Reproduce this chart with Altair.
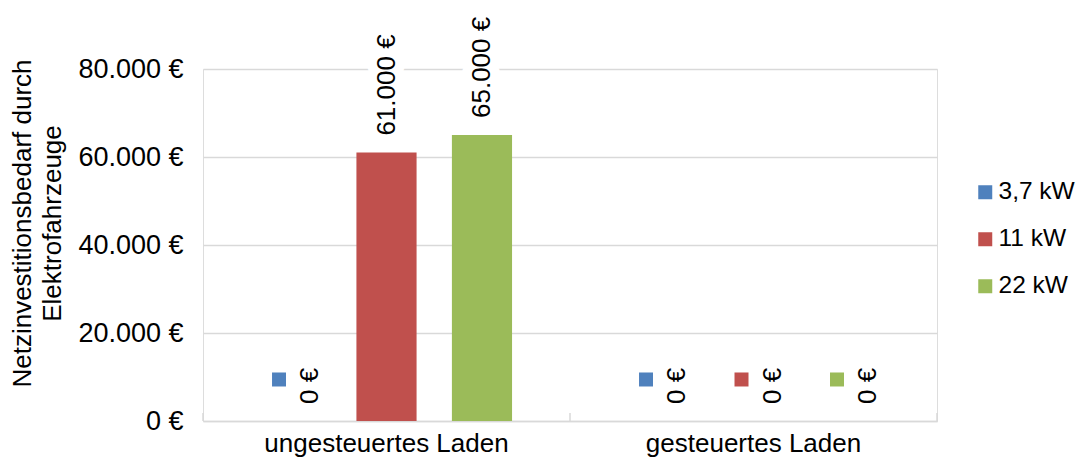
import altair as alt
import pandas as pd

categories = ["ungesteuertes Laden", "gesteuertes Laden"]
series = ["3,7 kW", "11 kW", "22 kW"]
values_ungesteuert = [0, 61000, 65000]
values_gesteuert = [0, 0, 0]
colors = ["#4F81BD", "#C0504D", "#9BBB59"]
y_ticks = [0, 20000, 40000, 60000, 80000]

rows = []
for cat, vals in zip(categories, [values_ungesteuert, values_gesteuert]):
    for s, v in zip(series, vals):
        rows.append({"cat": cat, "series": s, "value": v,
                     "label": f"{v:,.0f}".replace(",", ".") + " €"})
df = pd.DataFrame(rows)

FONT = "Liberation Sans"
FS = 26
W, H = 734, 352

# square marker shifted left/up of the bar anchor (units of half side = 7px)
SQ_PATH = "M-2.714,-6.93 L-0.714,-6.93 L-0.714,-4.93 L-2.714,-4.93 Z"

xenc = alt.X("cat:N", sort=categories,
             scale=alt.Scale(paddingInner=0, paddingOuter=0),
             axis=alt.Axis(title=None, labelAngle=0, ticks=False, grid=False,
                           domain=True, domainColor="#d9d9d9", domainWidth=1.5,
                           labelFontSize=FS, labelFont=FONT, labelColor="#000000",
                           labelPadding=9, labelLimit=0))
xoff = alt.XOffset("series:N", sort=series,
                   scale=alt.Scale(paddingInner=0.37, paddingOuter=0.607))
yenc = alt.Y("value:Q", scale=alt.Scale(domain=[0, 80000], nice=False),
             axis=alt.Axis(title=["Netzinvestitionsbedarf durch", "Elektrofahrzeuge"],
                           values=y_ticks, domain=False, ticks=False,
                           grid=True, gridColor="#d9d9d9", gridWidth=1.5,
                           labelFontSize=27, labelFont=FONT, labelColor="#000000",
                           labelPadding=20,
                           labelExpr="replace(format(datum.value, ',.0f'), ',', '.') + ' €'",
                           titleFontSize=FS, titleFont=FONT, titleFontWeight="normal",
                           titleColor="#000000", titleAngle=270, titleAlign="center",
                           titleBaseline="top", titleX=-194, titleY=154,
                           titleLineHeight=30))
color = alt.Color("series:N", sort=series,
                  scale=alt.Scale(domain=series, range=colors),
                  legend=alt.Legend(title=None, orient="none", legendX=770, legendY=111,
                                    symbolType="square", symbolSize=196,
                                    symbolStrokeWidth=0, labelFontSize=24.5,
                                    labelFont=FONT, labelColor="#000000",
                                    labelOffset=1, rowPadding=22, labelLimit=0))

base = alt.Chart(df)

bars = base.mark_bar().encode(x=xenc, xOffset=xoff, y=yenc, color=color)

nonzero = base.transform_filter("datum.value > 0")
zero = base.transform_filter("datum.value == 0")

pos = dict(x=alt.X("cat:N", sort=categories),
           xOffset=alt.XOffset("series:N", sort=series),
           y="value:Q", text="label:N")

halo = nonzero.mark_text(angle=270, align="left", baseline="middle", yOffset=-17,
                         font=FONT, fontSize=FS, stroke="white", strokeWidth=20,
                         fill="white").encode(**pos)
labels_nz = nonzero.mark_text(angle=270, align="left", baseline="middle", yOffset=-17,
                              font=FONT, fontSize=FS, color="#000000").encode(**pos)
labels_z = zero.mark_text(angle=270, align="left", baseline="middle", yOffset=-17,
                          dy=19, font=FONT, fontSize=FS, color="#000000").encode(**pos)
squares = zero.mark_point(shape=SQ_PATH, size=196, filled=True, opacity=1,
                          strokeWidth=0).encode(
    x=alt.X("cat:N", sort=categories), xOffset=alt.XOffset("series:N", sort=series),
    y="value:Q", color=alt.Color("series:N", sort=series, legend=None))

cat_df = pd.DataFrame({"cat": categories})
ticks_start = alt.Chart(cat_df).mark_rule(color="#d9d9d9", strokeWidth=1.5).encode(
    x=alt.X("cat:N", sort=categories, bandPosition=0),
    y=alt.value(H - 8), y2=alt.value(H))
ticks_end = alt.Chart(cat_df).transform_filter(
    alt.datum.cat == categories[-1]).mark_rule(color="#d9d9d9", strokeWidth=1.5).encode(
    x=alt.X("cat:N", sort=categories, bandPosition=1),
    y=alt.value(H - 8), y2=alt.value(H))

chart = alt.layer(bars, ticks_start, ticks_end, halo, labels_nz, labels_z, squares).properties(
    width=W, height=H,
    autosize=alt.AutoSizeParams(type="none"),
    padding={"left": 195, "top": 61, "right": 139, "bottom": 37},
).configure_view(stroke=None).configure(background="white")

chart.save("out.html", embed_options={"renderer": "svg", "actions": False})
